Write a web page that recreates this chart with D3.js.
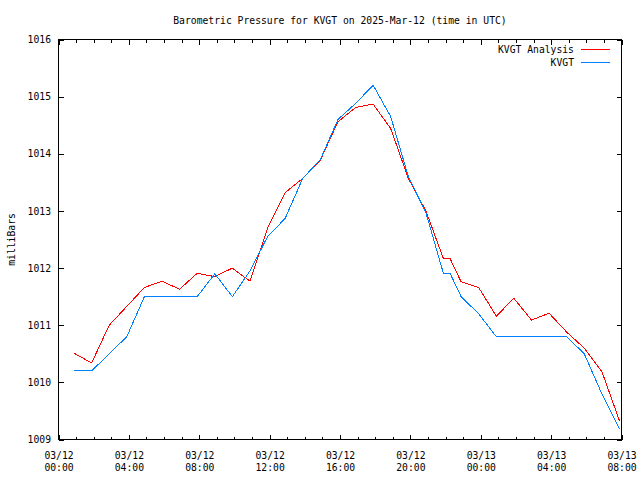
<!DOCTYPE html>
<html>
<head>
<meta charset="utf-8">
<script src="https://cdn.jsdelivr.net/npm/d3@7"></script>
<style>
  html, body { margin: 0; padding: 0; background: #fff; }
  text { font-family: "DejaVu Sans Mono", monospace; font-size: 10px; fill: #000; }
</style>
</head>
<body>
<svg id="chart" width="640" height="480"></svg>
<script>
// ---- data ----
const times = [
  "2025-03-12T00:53Z","2025-03-12T01:53Z","2025-03-12T02:53Z","2025-03-12T03:53Z",
  "2025-03-12T04:53Z","2025-03-12T05:53Z","2025-03-12T06:53Z","2025-03-12T07:53Z",
  "2025-03-12T08:53Z","2025-03-12T09:53Z","2025-03-12T10:53Z","2025-03-12T11:53Z",
  "2025-03-12T12:53Z","2025-03-12T13:53Z","2025-03-12T14:53Z","2025-03-12T15:53Z",
  "2025-03-12T16:53Z","2025-03-12T17:53Z","2025-03-12T18:53Z","2025-03-12T19:53Z",
  "2025-03-12T20:53Z","2025-03-12T21:53Z","2025-03-12T22:16Z","2025-03-12T22:53Z",
  "2025-03-12T23:53Z","2025-03-13T00:53Z","2025-03-13T01:53Z","2025-03-13T02:53Z",
  "2025-03-13T03:53Z","2025-03-13T04:53Z","2025-03-13T05:53Z","2025-03-13T06:53Z",
  "2025-03-13T07:53Z"
];
const analysis = [1010.51,1010.34,1011.00,1011.33,1011.66,1011.77,1011.63,1011.91,
  1011.85,1012.00,1011.77,1012.70,1013.32,1013.57,1013.89,1014.56,1014.81,1014.87,
  1014.44,1013.57,1013.00,1012.16,1012.16,1011.76,1011.66,1011.16,1011.47,1011.09,
  1011.21,1010.88,1010.60,1010.19,1009.33];
const observed = [1010.2,1010.2,1010.5,1010.8,1011.5,1011.5,1011.5,1011.5,
  1011.9,1011.5,1011.95,1012.55,1012.87,1013.57,1013.9,1014.6,1014.88,1015.2,
  1014.65,1013.6,1012.97,1011.9,1011.9,1011.5,1011.2,1010.8,1010.8,1010.8,
  1010.8,1010.8,1010.5,1009.8,1009.18];
const seriesNames = ["KVGT Analysis", "KVGT"];
const seriesColors = ["#ff0000", "#0080ff"];
const yTicks = [1009,1010,1011,1012,1013,1014,1015,1016];
const xStart = "2025-03-12T00:00Z", xEnd = "2025-03-13T08:00Z";
const titleText = "Barometric Pressure for KVGT on 2025-Mar-12 (time in UTC)";
const yLabel = "milliBars";

// ---- layout ----
const L = 58.5, R = 621.5, T = 39.5, B = 439.5;
const CW = 5.85; // char width
const svg = d3.select("#chart");

const parse = d3.isoParse;
const x = d3.scaleUtc().domain([parse(xStart), parse(xEnd)]).range([L, R]);
const y = d3.scaleLinear().domain([1009, 1016]).range([B, T]);

function fitText(sel, s) {
  sel.text(s).attr("textLength", s.length * CW).attr("lengthAdjust", "spacingAndGlyphs");
}

// title
svg.append("text").attr("x", (L + R) / 2).attr("y", 24).attr("text-anchor", "middle")
  .call(fitText, titleText);

// y label
svg.append("text").attr("transform", `translate(15,${(T + B) / 2}) rotate(-90)`)
  .attr("text-anchor", "middle").call(fitText, yLabel);

// axes
const hourTicks = d3.utcHour.range(parse(xStart), d3.utcHour.offset(parse(xEnd), 1), 1);
const majorTicks = d3.utcHour.range(parse(xStart), d3.utcHour.offset(parse(xEnd), 1), 4);

const gx = svg.append("g").attr("transform", `translate(0,${B})`)
  .call(d3.axisBottom(x).tickValues(hourTicks).tickSizeInner(-3).tickSizeOuter(0).tickFormat(""));
const gxM = svg.append("g").attr("transform", `translate(0,${B})`)
  .call(d3.axisBottom(x).tickValues(majorTicks).tickSizeInner(-5).tickSizeOuter(0).tickPadding(0)
    .tickFormat(d3.utcFormat("%m/%d")));
gxM.selectAll(".tick text").each(function(d) {
  const t = d3.select(this);
  t.text(null).attr("y", 0).attr("dy", null);
  t.append("tspan").attr("x", 0).attr("y", 19.5).call(fitText, d3.utcFormat("%m/%d")(d));
  t.append("tspan").attr("x", 0).attr("y", 31.5).call(fitText, d3.utcFormat("%H:%M")(d));
});
const gxT = svg.append("g").attr("transform", `translate(0,${T})`)
  .call(d3.axisTop(x).tickValues(hourTicks).tickSizeInner(-3).tickSizeOuter(0).tickFormat(""));
const gxTM = svg.append("g").attr("transform", `translate(0,${T})`)
  .call(d3.axisTop(x).tickValues(majorTicks).tickSizeInner(-5).tickSizeOuter(0).tickFormat(""));

const gy = svg.append("g").attr("transform", `translate(${L},0)`)
  .call(d3.axisLeft(y).tickValues(yTicks).tickSizeInner(-5).tickSizeOuter(0).tickPadding(7)
    .tickFormat(d3.format("d")));
gy.selectAll(".tick text").each(function(d) {
  d3.select(this).attr("x", -7.5).call(fitText, String(d));
});
const gyR = svg.append("g").attr("transform", `translate(${R},0)`)
  .call(d3.axisRight(y).tickValues(yTicks).tickSizeInner(-5).tickSizeOuter(0).tickFormat(""));

svg.selectAll(".domain").remove();
svg.selectAll(".tick line").attr("stroke", "#000").attr("shape-rendering", "crispEdges");
svg.selectAll(".tick text").attr("font-family", "DejaVu Sans Mono").attr("font-size", 10).attr("fill", "#000");

// border
svg.append("rect").attr("x", L).attr("y", T).attr("width", R - L).attr("height", B - T)
  .attr("fill", "none").attr("stroke", "#000").attr("shape-rendering", "crispEdges");

// lines
const dates = times.map(parse);
const line = d3.line().x(d => x(d[0])).y(d => y(d[1]));
[analysis, observed].forEach((vals, i) => {
  svg.append("path")
    .datum(dates.map((dt, j) => [dt, vals[j]]))
    .attr("d", line)
    .attr("fill", "none")
    .attr("stroke", seriesColors[i])
    .attr("stroke-width", 1)
    .attr("shape-rendering", "crispEdges");
});

// legend
seriesNames.forEach((name, i) => {
  const ly = 49.5 + i * 13;
  svg.append("text").attr("x", 574).attr("y", ly + 3.5).attr("text-anchor", "end").call(fitText, name);
  svg.append("line").attr("x1", 581).attr("x2", 610).attr("y1", ly).attr("y2", ly)
    .attr("stroke", seriesColors[i]).attr("shape-rendering", "crispEdges");
});
</script>
</body>
</html>
